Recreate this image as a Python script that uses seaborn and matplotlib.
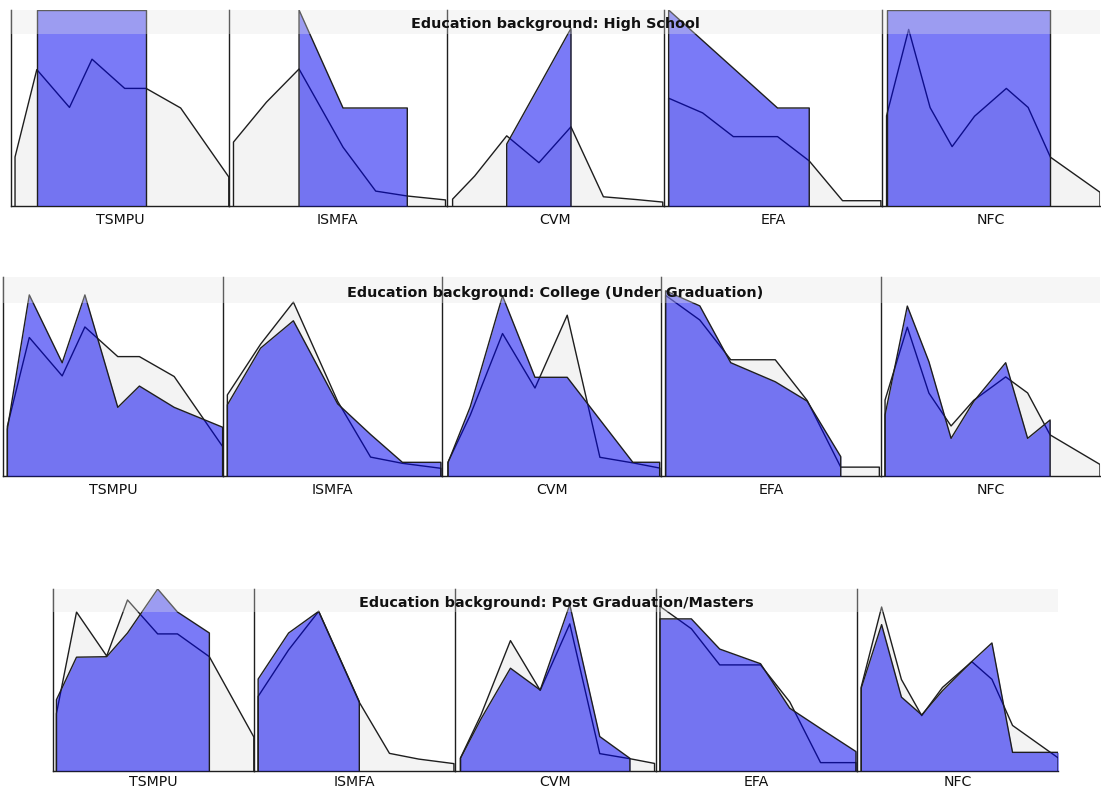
import matplotlib
matplotlib.use("Agg")
import matplotlib.pyplot as plt
import seaborn as sns
from matplotlib.patches import Rectangle

# ---------------- data ----------------
constructs = ["TSMPU", "ISMFA", "CVM", "EFA", "NFC"]
groups = ["High School", "College (Under Graduation)", "Post Graduation/Masters"]

# score positions (0-20 scale) for each construct
score_TSMPU = [0.37, 2.37, 5.37, 7.44, 10.44, 12.41, 15.58, 20.0]
score_ISMFA = [0.43, 3.46, 6.45, 10.49, 13.49, 16.39, 19.9]
score_CVM = [0.55, 2.58, 5.52, 8.48, 11.42, 14.4, 17.4, 19.85]
score_EFA = [0.39, 3.51, 6.33, 10.39, 13.3, 16.36, 19.88]
score_NFC = [0.4, 2.43, 4.4, 6.42, 8.48, 11.4, 13.4, 15.45, 20.0]

# overall respondents (grey)
overall_TSMPU = [25, 69.6, 50.3, 74.9, 60, 60, 50, 14.8]
overall_ISMFA = [32.6, 53, 69.9, 30, 7.6, 5.1, 3.1]
overall_CVM = [3.5, 15.3, 35.8, 22.1, 40.4, 4.7, 3.3, 2.0]
overall_EFA = [55, 47.5, 35.4, 35.4, 23, 2.7, 2.7]
overall_NFC = [46, 90.1, 50.2, 30.3, 45.8, 60, 50.3, 24.9, 7]

# High School (blue)
hs_TSMPU = [None, 100, 100, 100, 100, 100, None, None]
hs_ISMFA = [None, None, 100, 50, 50, 50, None]
hs_CVM = [None, None, 31.6, 61.1, 90.6, None, None, None]
hs_EFA = [100, 84.4, 70.3, 50, 50, None, None]
hs_NFC = [100, 100, 100, 100, 100, 100, 100, 100, None]

# College (Under Graduation) (blue)
ug_TSMPU = [23.5, 91, 56.9, 91, 34.5, 45.2, 34.5, 24.5]
ug_ISMFA = [28.6, 51.4, 62.4, 29, 16.7, 5.5, 5.5]
ug_CVM = [3.35, 17.4, 45.25, 24.8, 24.8, 14.15, 3.45, 3.45]
ug_EFA = [56.4, 51.8, 34.5, 28.7, 22.8, 5.9, None]
ug_NFC = [37, 102.9, 69.2, 22.8, 45.1, 68.6, 22.8, 33.9, None]

# Post Graduation/Masters (blue)
pg_TSMPU = [31.1, 49.8, 50, 60.4, 79.7, 69.6, 60.4, None]
pg_ISMFA = [40.2, 60.4, 69.9, 30.3, None, None, None]
pg_CVM = [3.4, 14.2, 28.2, 22.2, 45.7, 9.4, 3.4, None]
pg_EFA = [50.8, 50.8, 40.7, 35.8, 20.9, 14.1, 6.4]
pg_NFC = [45.4, 80.4, 40.5, 30.7, 44, 60.1, 70.3, 10.1, 10.1]

# y-axis maxima per panel
ymax_hs = [100, 100, 100, 100, 100]
ymax_ug = [100, 80, 50, 60.6, 120.5]
ymax_pg = [79.7, 79.7, 50, 60.8, 100]

scores = [score_TSMPU, score_ISMFA, score_CVM, score_EFA, score_NFC]
overall = [overall_TSMPU, overall_ISMFA, overall_CVM, overall_EFA, overall_NFC]
group_series = [
    [hs_TSMPU, hs_ISMFA, hs_CVM, hs_EFA, hs_NFC],
    [ug_TSMPU, ug_ISMFA, ug_CVM, ug_EFA, ug_NFC],
    [pg_TSMPU, pg_ISMFA, pg_CVM, pg_EFA, pg_NFC],
]
group_ymax = [ymax_hs, ymax_ug, ymax_pg]

# ---------------- style / layout ----------------
sns.set_style("white")
plt.rcParams["font.family"] = ["DejaVu Sans"]

W, H = 1101, 787
fig = plt.figure(figsize=(W / 100, H / 100), dpi=100)

row_left = [11, 3.3, 52.7]
row_right = [1100, 1100, 1058.3]
row_top = [10, 277, 589]
row_bottom = [206, 476, 770.7]
band_bottom = [34, 303, 612]
title_base = [28.3, 297.3, 606.7]
title_x = [555.5, 555, 556]
label_base = [224, 494, 786]

EDGE = "#1e1e1e"
GREY = "#f3f3f3"
BLUE = "#0000f0"


def draw_poly(ax, xs, ys, face, alpha, z):
    pts = [(x, y) for x, y in zip(xs, ys) if y is not None]
    px = [p[0] for p in pts]
    py = [p[1] for p in pts]
    ax.fill_between(px, 0, py, color=face, alpha=alpha, lw=0, zorder=z)
    ox = [px[0]] + px + [px[-1]]
    oy = [0] + py + [0]
    sns.lineplot(x=ox, y=oy, sort=False, estimator=None, color=EDGE,
                 lw=1.0, ax=ax, zorder=z + 0.1)


for r in range(3):
    width = (row_right[r] - row_left[r]) / 5
    for c in range(5):
        x0 = row_left[r] + c * width
        ax = fig.add_axes([x0 / W, 1 - row_bottom[r] / H,
                           width / W, (row_bottom[r] - row_top[r]) / H])
        ax.set_facecolor("none")
        draw_poly(ax, scores[c], overall[c], GREY, 1.0, 2)
        draw_poly(ax, scores[c], group_series[r][c], BLUE, 0.52, 3)
        ax.set_xlim(0, 20)
        ax.set_ylim(0, group_ymax[r][c])
        ax.set_xticks([])
        ax.set_yticks([])
        ax.set_xlabel("")
        ax.set_ylabel("")
        for s in ["top", "right"]:
            ax.spines[s].set_visible(False)
        for s in ["left", "bottom"]:
            ax.spines[s].set_visible(True)
            ax.spines[s].set_color(EDGE)
            ax.spines[s].set_linewidth(1.0)
        fig.text((x0 + width / 2) / W, 1 - label_base[r] / H, constructs[c],
                 ha="center", va="baseline", fontsize=10.2, color="#111111")

    # translucent title strip
    band = Rectangle((row_left[r] / W, 1 - band_bottom[r] / H),
                     (row_right[r] - row_left[r]) / W,
                     (band_bottom[r] - row_top[r]) / H,
                     transform=fig.transFigure, facecolor="#e6e6e6",
                     alpha=0.32, lw=0, zorder=5)
    fig.add_artist(band)
    fig.text(title_x[r] / W, 1 - title_base[r] / H,
             "Education background: " + groups[r],
             ha="center", va="baseline", fontsize=10.35, fontweight="bold",
             color="#111111", zorder=6)

fig.savefig("out.png", dpi=100)
